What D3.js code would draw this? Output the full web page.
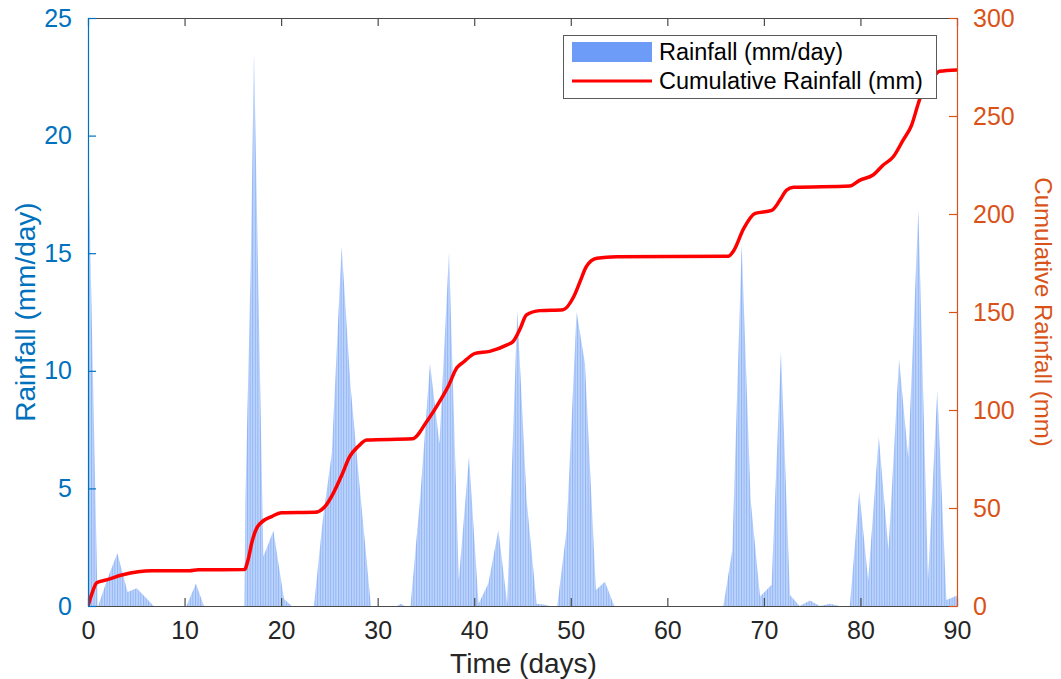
<!DOCTYPE html>
<html>
<head>
<meta charset="utf-8">
<script src="https://cdn.jsdelivr.net/npm/d3@7"></script>
<style>
  html, body { margin: 0; padding: 0; background: #fff; }
  svg { display: block; }
  text { font-family: "Liberation Sans", Arial, Helvetica, sans-serif; }
</style>
</head>
<body>
<svg id="chart" width="1061" height="679"></svg>
<script>
// ---------------- data ----------------
const rainDays = [0, 1.0, 1.05, 2.05, 3.04, 4.1, 5.04, 6.0, 6.8,
  10.2, 11.18, 12.0,
  16.2, 16.3, 16.85, 17.19, 18.16, 19.2, 20.3, 21.1,
  23.4, 24.3, 25.25, 26.27, 27.2, 28.2, 29.3,
  32.0, 32.4, 32.8,
  33.4, 34.4, 35.42, 36.4, 37.39, 38.4, 39.46, 40.45, 41.46, 42.5, 43.42, 44.46, 45.43, 46.46, 47.3, 47.8,
  48.6, 49.57, 50.6, 51.47, 52.6, 53.54, 54.5,
  65.8, 66.73, 67.7, 68.63, 69.6, 70.8, 71.77, 72.7, 73.7, 74.77, 75.8, 76.84, 77.8,
  78.9, 79.88, 80.8, 81.9, 82.9, 84.0, 84.95, 86.0, 87.0, 87.96, 88.9, 90];
const rainValues = [20, 0, 0, 1.2, 2.24, 0.6, 0.75, 0.35, 0,
  0, 0.96, 0,
  0, 4.5, 14.4, 23.57, 2.1, 3.2, 0.3, 0,
  0, 3.6, 6.5, 15.28, 9.3, 4.8, 0,
  0, 0.1, 0,
  0, 4.6, 10.3, 6.9, 15.06, 1.1, 6.35, 0.1, 0.96, 3.23, 0.1, 12.55, 4.5, 0.1, 0.05, 0,
  0, 3.23, 12.51, 10.3, 0.68, 1.03, 0,
  0, 2.38, 15.35, 4.5, 0.4, 0.9, 10.81, 0.47, 0, 0.23, 0, 0.1, 0,
  0, 4.86, 1.1, 7.2, 2.38, 10.5, 6.3, 16.84, 1.1, 9.18, 0.26, 0.45];

const cumDays = [0, 0.45, 0.9, 1.9, 3.5, 5.2, 6.6, 10.5, 11.4, 16.2, 16.6, 16.95, 17.5, 17.92, 19.0, 20.05,
  23.5, 24.5, 25.4, 26.3, 27.1, 28.0, 28.86, 33.6, 35.07, 36.5, 37.3, 38.2, 38.9, 40.1, 41.6, 43.4, 44.0,
  44.8, 45.4, 46.8, 49.2, 50.3, 51.0, 51.6, 52.7, 54.75, 66.3, 66.9, 67.9, 69.1, 70.8, 71.67, 72.35, 73.05,
  78.9, 79.95, 81.3, 82.36, 83.4, 84.43, 85.3, 86.0, 86.6, 87.4, 88.2, 90];
const cumValues = [0, 7, 11.9, 13.3, 15.8, 17.5, 18.0, 18.0, 18.5, 18.6, 24, 32, 40, 42.5, 45.6, 47.6,
  47.8, 50.5, 57.5, 67, 76.2, 81.5, 84.7, 85.3, 94, 105, 112, 121.5, 124.5, 128.9, 129.9, 133.2, 134.8,
  142, 148.5, 150.7, 151.2, 157.8, 166, 173.1, 177.4, 178.2, 178.4, 181.5, 192.5, 200.3, 201.8, 207.1, 212.2, 213.6,
  214.3, 217.3, 219.9, 225, 229.2, 237.8, 245.4, 256.5, 265, 269, 272.8, 273.5];

const xTicks = [0, 10, 20, 30, 40, 50, 60, 70, 80, 90];
const leftTicks = [0, 5, 10, 15, 20, 25];
const rightTicks = [0, 50, 100, 150, 200, 250, 300];

const legendLabels = ["Rainfall (mm/day)", "Cumulative Rainfall (mm)"];
const axisLabels = { x: "Time (days)", left: "Rainfall (mm/day)", right: "Cumulative Rainfall (mm)" };

// ---------------- layout ----------------
const L = 88, R = 957, T = 18, B = 606;
const blue = "#0072BD", orange = "#D95319", dark = "#262626";

const svg = d3.select("#chart");
const x = d3.scaleLinear().domain([0, 90]).range([L, R]);
const yL = d3.scaleLinear().domain([0, 25]).range([B, T]);
const yR = d3.scaleLinear().domain([0, 300]).range([B, T]);

const defs = svg.append("defs");
const pat = defs.append("pattern").attr("id", "stripes")
  .attr("patternUnits", "userSpaceOnUse").attr("width", 2.6).attr("height", 10);
pat.append("rect").attr("width", 2.6).attr("height", 10).attr("fill", "#bfd5fb");
pat.append("rect").attr("width", 1).attr("height", 10).attr("fill", "#8fb4f6");
defs.append("clipPath").attr("id", "clip").append("rect")
  .attr("x", L).attr("y", T).attr("width", R - L).attr("height", B - T);

const rain = rainDays.map((d, i) => ({ d, v: rainValues[i] }));
const cum = cumDays.map((d, i) => ({ d, v: cumValues[i] }));

const plot = svg.append("g").attr("clip-path", "url(#clip)");
plot.append("path").datum(rain)
  .attr("fill", "url(#stripes)")
  .attr("d", d3.area().x(p => x(p.d)).y0(yL(0)).y1(p => yL(p.v)));

plot.append("path").datum(cum)
  .attr("fill", "none").attr("stroke", "#ff0000").attr("stroke-width", 3.5)
  .attr("stroke-linejoin", "round")
  .attr("d", d3.line().curve(d3.curveMonotoneX).x(p => x(p.d)).y(p => yR(p.v)));

// ---------------- axes ----------------
const tickFont = 25;
function styleAxis(g, color) {
  g.select(".domain").attr("stroke", color).attr("stroke-width", 1.2);
  g.selectAll(".tick line").attr("stroke", color).attr("stroke-width", 1.2);
  g.selectAll(".tick text").attr("fill", color).style("font-size", tickFont + "px")
    .style("font-family", '"Liberation Sans", Arial, sans-serif');
}
const gx = svg.append("g").attr("transform", `translate(0,${B})`)
  .call(d3.axisBottom(x).tickValues(xTicks).tickSizeInner(-8).tickSizeOuter(0).tickPadding(15));
styleAxis(gx, "#4a4a4a");
gx.selectAll(".tick text").attr("fill", dark);
const gxt = svg.append("g").attr("transform", `translate(0,${T})`)
  .call(d3.axisTop(x).tickValues(xTicks).tickSizeInner(-8).tickSizeOuter(0).tickFormat(""));
styleAxis(gxt, "#4a4a4a");

const gl = svg.append("g").attr("transform", `translate(${L},0)`)
  .call(d3.axisLeft(yL).tickValues(leftTicks).tickSizeInner(-8).tickSizeOuter(0).tickPadding(16));
styleAxis(gl, blue);
const gr = svg.append("g").attr("transform", `translate(${R},0)`)
  .call(d3.axisRight(yR).tickValues(rightTicks).tickSizeInner(-8).tickSizeOuter(0).tickPadding(16));
styleAxis(gr, orange);

// axis labels
svg.append("text").attr("x", (L + R) / 2 + 1).attr("y", 673).attr("text-anchor", "middle")
  .attr("fill", dark).style("font-size", "28px").text(axisLabels.x);
svg.append("text").attr("transform", `translate(35,${(T + B) / 2}) rotate(-90)`)
  .attr("text-anchor", "middle").attr("fill", blue).style("font-size", "28px").text(axisLabels.left);
svg.append("text").attr("transform", `translate(1035,${(T + B) / 2}) rotate(90)`)
  .attr("text-anchor", "middle").attr("fill", orange).style("font-size", "24px").text(axisLabels.right);

// ---------------- legend ----------------
const lg = svg.append("g");
lg.append("rect").attr("x", 563.5).attr("y", 35.5).attr("width", 373).attr("height", 63)
  .attr("fill", "#fff").attr("stroke", "#5a5a5a").attr("stroke-width", 1);
lg.append("rect").attr("x", 572).attr("y", 42).attr("width", 80).attr("height", 20).attr("fill", "#6c9cf7");
lg.append("line").attr("x1", 572).attr("x2", 652).attr("y1", 81).attr("y2", 81)
  .attr("stroke", "#ff0000").attr("stroke-width", 3);
lg.selectAll("text.lt").data(legendLabels).join("text").attr("class", "lt")
  .attr("x", 659).attr("y", (d, i) => 60 + i * 29)
  .attr("fill", "#000").style("font-size", "23.5px").text(d => d);
</script>
</body>
</html>
